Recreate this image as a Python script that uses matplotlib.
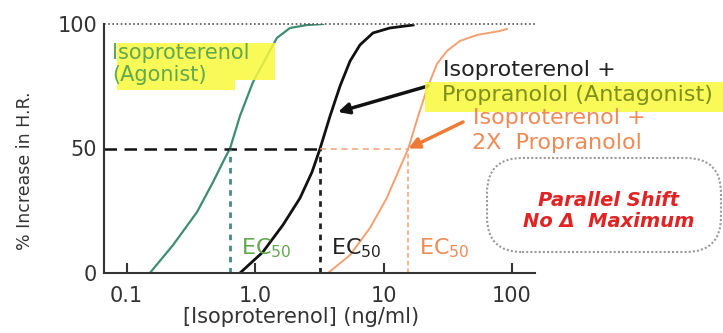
import matplotlib
matplotlib.use("Agg")
import matplotlib.pyplot as plt
from matplotlib.patches import Rectangle, FancyBboxPatch

# values (x in ng/ml, y in % increase)
green_x = [0.152, 0.230, 0.354, 0.471, 0.584, 0.639, 0.764, 0.965, 1.24, 1.48, 1.87, 2.54, 3.38]
green_y = [0, 11.2, 24.5, 36.5, 46.2, 50, 63.1, 76.7, 87.1, 94.4, 98.4, 99.6, 100]

black_x = [0.764, 1.15, 1.65, 2.24, 2.78, 3.21, 3.84, 4.59, 5.49, 6.56, 8.28, 11.2, 17.0]
black_y = [0, 8.4, 19.3, 30.1, 40.6, 50, 63.1, 75.1, 85.1, 91.6, 96.4, 98.4, 99.6]

orange_x = [3.70, 5.49, 7.85, 10.6, 13.4, 15.6, 18.2, 21.8, 26.1, 31.2, 39.4, 53.4, 80.7, 91.4]
orange_y = [0, 7.2, 18.1, 30.1, 42.2, 50, 61.4, 74, 84, 89.2, 93.2, 95.6, 97.2, 98]

ec50 = [0.639, 3.21, 15.6]

x_ticks = [0.1, 1, 10, 100]
x_tick_labels = ["0.1", "1.0", "10", "100"]
y_ticks = [0, 50, 100]

W, H = 723, 333
GREEN = "#3f8c74"
GREEN_TXT = "#62a84e"
ORANGE = "#f2a072"
ORANGE_TXT = "#ee8a55"
OLIVE = "#7f8f1c"


def fp(x, y):
    # pixel position (top-left origin) -> figure fraction
    return (x / W, 1 - y / H)


fig = plt.figure(figsize=(W / 100, H / 100), dpi=100)
ax = fig.add_axes([104 / W, 60 / H, (535 - 104) / W, (273 - 24) / H])
ax.set_xscale("log")
ax.set_xlim(0.0668, 151)
ax.set_ylim(0, 100)

# curves
ax.plot(green_x, green_y, color=GREEN, lw=1.6)
ax.plot(black_x, black_y, color="#111111", lw=2.0)
ax.plot(orange_x, orange_y, color=ORANGE, lw=1.4)

# 100 % reference line
ax.axhline(100, color="#555555", ls=(0, (1, 1.5)), lw=1.2, clip_on=False)

# EC50 guides
ax.plot([ax.get_xlim()[0], ec50[1]], [50, 50], color="#111111", lw=1.8, dashes=(5, 3))
ax.plot([ec50[1], ec50[2]], [50, 50], color=ORANGE, lw=1.1, dashes=(4, 3))
ax.plot([ec50[0]] * 2, [0, 50], color="#4a8a84", lw=2.0, dashes=(2, 2))
ax.plot([ec50[1]] * 2, [0, 50], color="#222222", lw=2.0, dashes=(2, 2))
ax.plot([ec50[2]] * 2, [0, 50], color=ORANGE, lw=1.1, dashes=(3, 2))

for ec, c in zip(ec50, [GREEN_TXT, "#222222", ORANGE_TXT]):
    ax.annotate(r"EC$_{50}$", xy=(ec, 7.5), xytext=(8, 0), textcoords="offset points",
                ha="left", va="baseline", fontsize=16, color=c)

# axes styling
for s in ["top", "right"]:
    ax.spines[s].set_visible(False)
for s in ["left", "bottom"]:
    ax.spines[s].set_linewidth(1.5)
    ax.spines[s].set_color("#333333")
ax.set_xticks(x_ticks)
ax.set_xticklabels(x_tick_labels)
ax.minorticks_off()
ax.set_yticks(y_ticks)
ax.tick_params(axis="x", direction="in", length=7, width=1.5, pad=9, labelsize=15,
               colors="#333333")
ax.tick_params(axis="y", length=0, pad=5, labelsize=15, colors="#333333")

ax.set_ylabel("% Increase in H.R.", fontsize=12.5, color="#333333")
ax.yaxis.set_label_coords(-0.163, 0.41)
ax.set_xlabel("[Isoproterenol] (ng/ml)", fontsize=15, color="#333333")
ax.xaxis.set_label_coords(0.457, -0.135)

# yellow highlights
for x0, y0, x1, y1 in [(117, 43, 275, 80), (117, 80, 235, 90), (425, 82, 723, 112)]:
    fig.add_artist(Rectangle(fp(x0, y1), (x1 - x0) / W, (y1 - y0) / H,
                             transform=fig.transFigure, facecolor="#f8f83a",
                             edgecolor="none", alpha=0.85, zorder=1))

fig.text(*fp(112, 64), "Isoproterenol\n(Agonist)", fontsize=15, color=GREEN_TXT,
         ha="left", va="center", linespacing=1.1)
fig.text(*fp(443, 70), "Isoproterenol +", fontsize=16, color="#222222", ha="left", va="center")
fig.text(*fp(442, 95), "Propranolol (Antagonist)", fontsize=16, color=OLIVE,
         ha="left", va="center")
fig.text(*fp(473, 118), "Isoproterenol +", fontsize=16, color=ORANGE_TXT, ha="left", va="center")
fig.text(*fp(472, 143), "2X  Propranolol", fontsize=16, color=ORANGE_TXT, ha="left", va="center")

# arrows
ax.annotate("", xy=fp(338, 112), xycoords="figure fraction",
            xytext=fp(428, 86), textcoords="figure fraction",
            arrowprops=dict(arrowstyle="-|>", color="#111111", lw=2.5, mutation_scale=16,
                            shrinkA=0, shrinkB=0))
ax.annotate("", xy=(ec50[2], 50), xycoords="data",
            xytext=fp(463, 122), textcoords="figure fraction",
            arrowprops=dict(arrowstyle="-|>", color="#ee7a35", lw=2.5, mutation_scale=16,
                            shrinkA=0, shrinkB=0))

# callout
fig.add_artist(FancyBboxPatch((4.99, 0.93), 2.1, 0.7,
                              boxstyle="round,pad=0.12,rounding_size=0.35",
                              transform=fig.dpi_scale_trans, fill=False,
                              edgecolor="#9a9a9a", ls=(0, (1, 1)), lw=1.5))
fig.text(*fp(609, 211), "Parallel Shift\nNo \u0394  Maximum", fontsize=14,
         fontweight="bold", fontstyle="italic", color="#e02424",
         ha="center", va="center", multialignment="center", linespacing=1.15)

fig.savefig("out.png", dpi=100)
